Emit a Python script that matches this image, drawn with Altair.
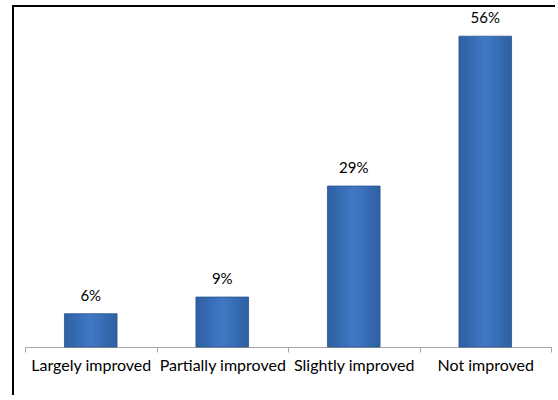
import altair as alt
import pandas as pd

categories = ["Largely improved", "Partially improved", "Slightly improved", "Not improved"]
values = [6, 9, 29, 56]
labels = ["6%", "9%", "29%", "56%"]

df = pd.DataFrame({"cat": categories, "val": values, "lab": labels})

W, H = 526, 333
FONT = "Lato"

x = alt.X("cat:N", sort=categories, title=None,
          scale=alt.Scale(paddingInner=0, paddingOuter=0),
          axis=alt.Axis(labelAngle=0, labelFont=FONT, labelFontSize=16, labelColor="#000000",
                        domainColor="#A6A6A6", tickColor="#A6A6A6", tickSize=5,
                        tickBand="extent", labelPadding=5, labelLimit=200))
y = alt.Y("val:Q", scale=alt.Scale(domain=[0, 60]), axis=None)

grad = alt.Gradient(gradient="linear",
                    stops=[alt.GradientStop(color="#2E60A2", offset=0),
                           alt.GradientStop(color="#4079C6", offset=0.5),
                           alt.GradientStop(color="#2E60A2", offset=1)],
                    x1=0, x2=1, y1=0, y2=0)

bars = alt.Chart(df).mark_bar(width=alt.RelativeBandSize(0.4), color=grad,
                              stroke="#2A548C", strokeWidth=0.8).encode(x=x, y=y)

text = alt.Chart(df).mark_text(font=FONT, fontSize=15, color="#000000", baseline="bottom", dy=-10).encode(
    x=alt.X("cat:N", sort=categories), y="val:Q", text="lab:N")

frame_top = alt.Chart(df).mark_rect(fill="#000000", clip=False).encode(
    x=alt.value(-13), x2=alt.value(W + 4), y=alt.value(-9), y2=alt.value(-7))
frame_left = alt.Chart(df).mark_rect(fill="#000000", clip=False).encode(
    x=alt.value(-13), x2=alt.value(-11), y=alt.value(-9), y2=alt.value(H + 48))

chart = alt.layer(bars, text, frame_top, frame_left).properties(
    width=W, height=H,
    autosize=alt.AutoSizeParams(type="none"),
    padding={"left": 25, "top": 14, "right": 4, "bottom": 48},
    background="#FFFFFF",
).configure_view(strokeWidth=0)

chart.save("out.html", embed_options={"renderer": "svg", "actions": False})
